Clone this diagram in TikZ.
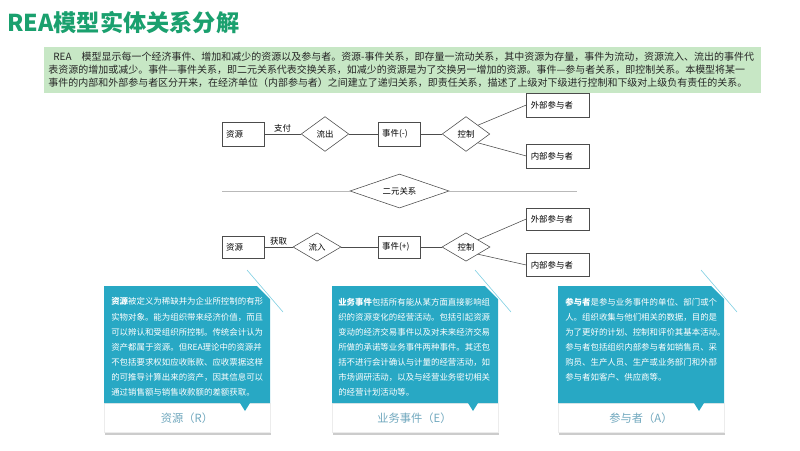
\documentclass[tikz,border=0pt]{standalone}
\usepackage{fontspec}
\setmainfont{Noto Sans CJK SC}
\usetikzlibrary{shapes.geometric, positioning}
\definecolor{reagreen}{RGB}{26,160,110}
\definecolor{introfill}{RGB}{199,231,197}
\definecolor{cardblue}{RGB}{40,168,196}
\definecolor{labelblue}{RGB}{112,168,190}
\definecolor{linecyan}{RGB}{120,205,225}

\begin{document}
\begin{tikzpicture}[x=0.025cm, y=-0.025cm,
        heading/.style={anchor=west, inner sep=0pt, text=reagreen, font=\bfseries\fontsize{16.5}{19}\selectfont},
        intro/.style={fill=introfill, minimum width=17.93cm, minimum height=1.15cm, text width=17.7cm, align=left, inner sep=0pt, text=black!85, font=\fontsize{7.1}{9.25}\selectfont},
        entity/.style={rectangle, draw=black!70, fill=white, minimum height=0.6cm, inner xsep=3pt, text width=0.84cm, align=left, font=\fontsize{6}{7}\selectfont},
        party/.style={entity, text width=1.36cm},
        relation/.style={diamond, draw=black!70, fill=white, aspect=1.4, minimum width=1.19cm, minimum height=0.87cm, inner sep=0pt, font=\fontsize{6}{7}\selectfont},
        link/.style={draw=black!70},
        edgelabel/.style={inner sep=1pt, font=\fontsize{6}{7}\selectfont},
        cardtext/.style={anchor=north west, inner sep=0pt, align=left, text=white, font=\fontsize{6}{10.7}\selectfont},
        cardlabel/.style={text=labelblue, font=\fontsize{8}{9}\selectfont}
    ]
    \useasboundingbox (0,0) rectangle (800,450);
    % Title
    \node[heading] (title) at (7,23) {REA模型实体关系分解};
    % Intro
    \node[intro] (intro) at (402.5,70) {\hspace*{0.5em}REA\hspace{1em}模型显示每一个经济事件、增加和减少的资源以及参与者。资源-事件关系，即存量一流动关系，其中资源为存量，事件为流动，资源流入、流出的事件代\\
        表资源的增加或减少。事件—事件关系，即二元关系代表交换关系，如减少的资源是为了交换另一增加的资源。事件—参与者关系，即控制关系。本模型将某一\\
        事件的内部和外部参与者区分开来，在经济单位（内部参与者）之间建立了递归关系，即责任关系，描述了上级对下级进行控制和下级对上级负有责任的关系。};
    % Outflow row
    \node[entity] (res1) at (243,134) {资源};
    \node[relation] (out) at (325,134) {流出};
    \node[entity] (ev1) at (399,134) {事件(-)};
    \node[relation] (ctl1) at (466,134) {控制};
    \node[party] (ext1) at (558,105) {外部参与者};
    \node[party] (int1) at (558,156) {内部参与者};
    \draw[link] (res1) -- (out) node[midway, above, edgelabel] {支付};
    \draw[link] (out) -- (ev1);
    \draw[link] (ev1) -- (ctl1);
    \draw[link] (ctl1.north east) -- (ext1.west);
    \draw[link] (ctl1.south east) -- (int1.west);
    % Binary relation
    \coordinate (ml) at (222,191);
    \coordinate (mr) at (577,191);
    \node[relation, aspect=2.9, minimum width=2.48cm, minimum height=0.85cm] (bin) at (399.5,191) {二元关系};
    \draw[gray!55] (ml) -- (bin.west);
    \draw[gray!55] (bin.east) -- (mr);
    % Inflow row
    \node[entity, minimum height=0.55cm] (res2) at (243,247) {资源};
    \node[relation, minimum width=1.2cm, minimum height=0.71cm] (in) at (317,247) {流入};
    \node[entity, minimum height=0.55cm] (ev2) at (399,247) {事件(+)};
    \node[relation, minimum width=1.2cm, minimum height=0.71cm] (ctl2) at (466,247) {控制};
    \node[party, minimum height=0.55cm] (ext2) at (558,219) {外部参与者};
    \node[party, minimum height=0.58cm] (int2) at (558,265) {内部参与者};
    \draw[link] (res2) -- (in) node[midway, above, edgelabel] {获取};
    \draw[link] (in) -- (ev2);
    \draw[link] (ev2) -- (ctl2);
    \draw[link] (ctl2.north east) -- (ext2.west);
    \draw[link] (ctl2.south east) -- (int2.west);
    % Cards
    \foreach \x in {104,332,558} {
        \fill[gray!40] (\x+1,406) rectangle (\x+167,435);
        \filldraw[fill=white, draw=gray!15] (\x,403) rectangle (\x+166,432);
        \fill[cardblue] (\x,286) -- (\x+153,286) -- (\x+166,299) -- (\x+166,403) -- (\x+146,403) -- (\x+141,411) -- (\x+136,403) -- (\x,403) -- cycle;
        \draw[linecyan] (\x+143,270) -- (\x+179,312);
    }
    \node[cardtext] (txtR) at (111,297.5) {\textbf{资源}被定义为稀缺并为企业所控制的有形\\
        实物对象。能为组织带来经济价值，而且\\
        可以辨认和受组织所控制。传统会计认为\\
        资产都属于资源。但REA理论中的资源并\\
        不包括要求权如应收账款、应收票据这样\\
        的可推导计算出来的资产，因其信息可以\\
        通过销售额与销售收款额的差额获取。};
    \node[cardtext] (txtE) at (338,297.5) {\textbf{业务事件}包括所有能从某方面直接影响组\\
        织的资源变化的经营活动。包括引起资源\\
        变动的经济交易事件以及对未来经济交易\\
        所做的承诺等业务事件两种事件。其还包\\
        括不进行会计确认与计量的经营活动，如\\
        市场调研活动，以及与经营业务密切相关\\
        的经营计划活动等。};
    \node[cardtext] (txtA) at (565,297.5) {\textbf{参与者}是参与业务事件的单位、部门或个\\
        人。组织收集与他们相关的数据，目的是\\
        为了更好的计划、控制和评价其基本活动。\\
        参与者包括组织内部参与者如销售员、采\\
        购员、生产人员、生产或业务部门和外部\\
        参与者如客户、供应商等。};
    \node[cardlabel] (labR) at (187,418) {资源（R）};
    \node[cardlabel] (labE) at (414.5,418) {业务事件（E）};
    \node[cardlabel] (labA) at (641,418) {参与者（A）};
\end{tikzpicture}
\end{document}
